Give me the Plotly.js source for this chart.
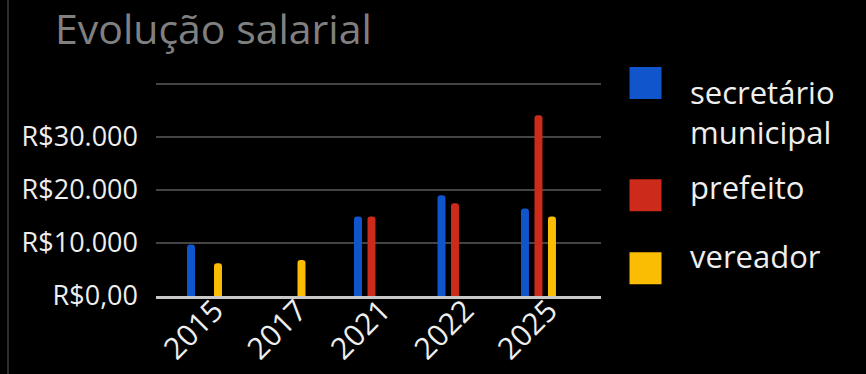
<!DOCTYPE html>
<html>
<head>
<meta charset="utf-8">
<script src="https://cdn.plot.ly/plotly-3.0.1.min.js"></script>
<style>
  html, body { margin: 0; padding: 0; background: #000; }
  #chart { width: 866px; height: 374px; }
</style>
</head>
<body>
<div id="chart"></div>
<script>
// ---- data ----
const years = ['2015', '2017', '2021', '2022', '2025'];
const seriesNames = ['secretário<br>municipal', 'prefeito', 'vereador'];
const secretarioMunicipal = [9700, null, 15000, 19000, 16500];
const prefeito = [null, null, 15000, 17500, 34100];
const vereador = [6200, 6800, null, null, 15000];
const seriesColors = ['#1155cc', '#cc2a1a', '#fbbc04'];
const yTickVals = [0, 10000, 20000, 30000, 40000];
const yTickText = ['R$0,00', 'R$10.000', 'R$20.000', 'R$30.000', ''];

// ---- layout geometry (pixels) ----
const W = 866, H = 374;
const L = 156, R = 601, T = 83, B = 295.7;
const px2x = p => (p - L) / (R - L);
const px2y = p => (B - p) / (B - T);

const FONT = '"Open Sans", "Noto Sans", sans-serif';
const seriesValues = [secretarioMunicipal, prefeito, vereador];

const traces = seriesValues.map((vals, i) => ({
  type: 'bar',
  name: seriesNames[i],
  x: years,
  y: vals,
  marker: { color: seriesColors[i], cornerradius: 4 },
  hoverinfo: 'x+y+name'
}));

// legend drawn as big square swatches + text
const legendSwatchTop = [67, 179, 252];
const legendTextMid = [112, 186.5, 256.2];
const shapes = [];
const annotations = [];
seriesNames.forEach((n, i) => {
  shapes.push({
    type: 'rect', xref: 'paper', yref: 'paper',
    x0: px2x(629.5), x1: px2x(661.5),
    y0: px2y(legendSwatchTop[i]), y1: px2y(legendSwatchTop[i] + 32),
    fillcolor: seriesColors[i], line: { width: 0 }
  });
  annotations.push({
    xref: 'paper', yref: 'paper',
    x: px2x(689), y: px2y(legendTextMid[i]),
    xanchor: 'left', yanchor: 'middle', align: 'left',
    text: n, showarrow: false, borderpad: 0,
    font: { family: FONT, size: 31, color: '#eeeeee' }
  });
});
// thin frame line at the left edge
shapes.push({
  type: 'line', xref: 'paper', yref: 'paper',
  x0: px2x(8), x1: px2x(8), y0: px2y(H + 5), y1: px2y(-5),
  line: { color: '#3c3c3c', width: 1.5 }
});

const layout = {
  width: W, height: H,
  paper_bgcolor: '#000000',
  plot_bgcolor: '#000000',
  margin: { l: L, r: W - R, t: T, b: H - B, pad: 0 },
  showlegend: false,
  barmode: 'group',
  bargap: 0.515,
  bargroupgap: 0.41,
  font: { family: FONT, color: '#eeeeee' },
  title: {
    text: 'Evolução salarial',
    font: { family: FONT, size: 41, color: '#808080' },
    xref: 'container', yref: 'container',
    x: 55 / W, xanchor: 'left',
    y: 1 - 29.5 / H, yanchor: 'middle',
    pad: { t: 0, b: 0, l: 0, r: 0 }
  },
  xaxis: {
    type: 'category',
    categoryorder: 'array', categoryarray: years,
    range: [-0.581, 4.749],
    tickangle: -45,
    tickfont: { family: FONT, size: 30, color: '#eeeeee' },
    ticklabelshift: 10,
    ticklabelstandoff: -18,
    showgrid: false,
    zeroline: false,
    showline: true, linecolor: '#c8c8c8', linewidth: 3,
    ticks: '',
    fixedrange: true
  },
  yaxis: {
    range: [0, 40200],
    tickvals: yTickVals,
    ticktext: yTickText,
    tickfont: { family: FONT, size: 27, color: '#eeeeee' },
    showgrid: true, gridcolor: '#444444', gridwidth: 2,
    zeroline: false,
    showline: false,
    ticks: '',
    ticklabelstandoff: 17,
    fixedrange: true
  },
  shapes: shapes,
  annotations: annotations
};

Plotly.newPlot('chart', traces, layout, { displayModeBar: false, staticPlot: true });
</script>
</body>
</html>
